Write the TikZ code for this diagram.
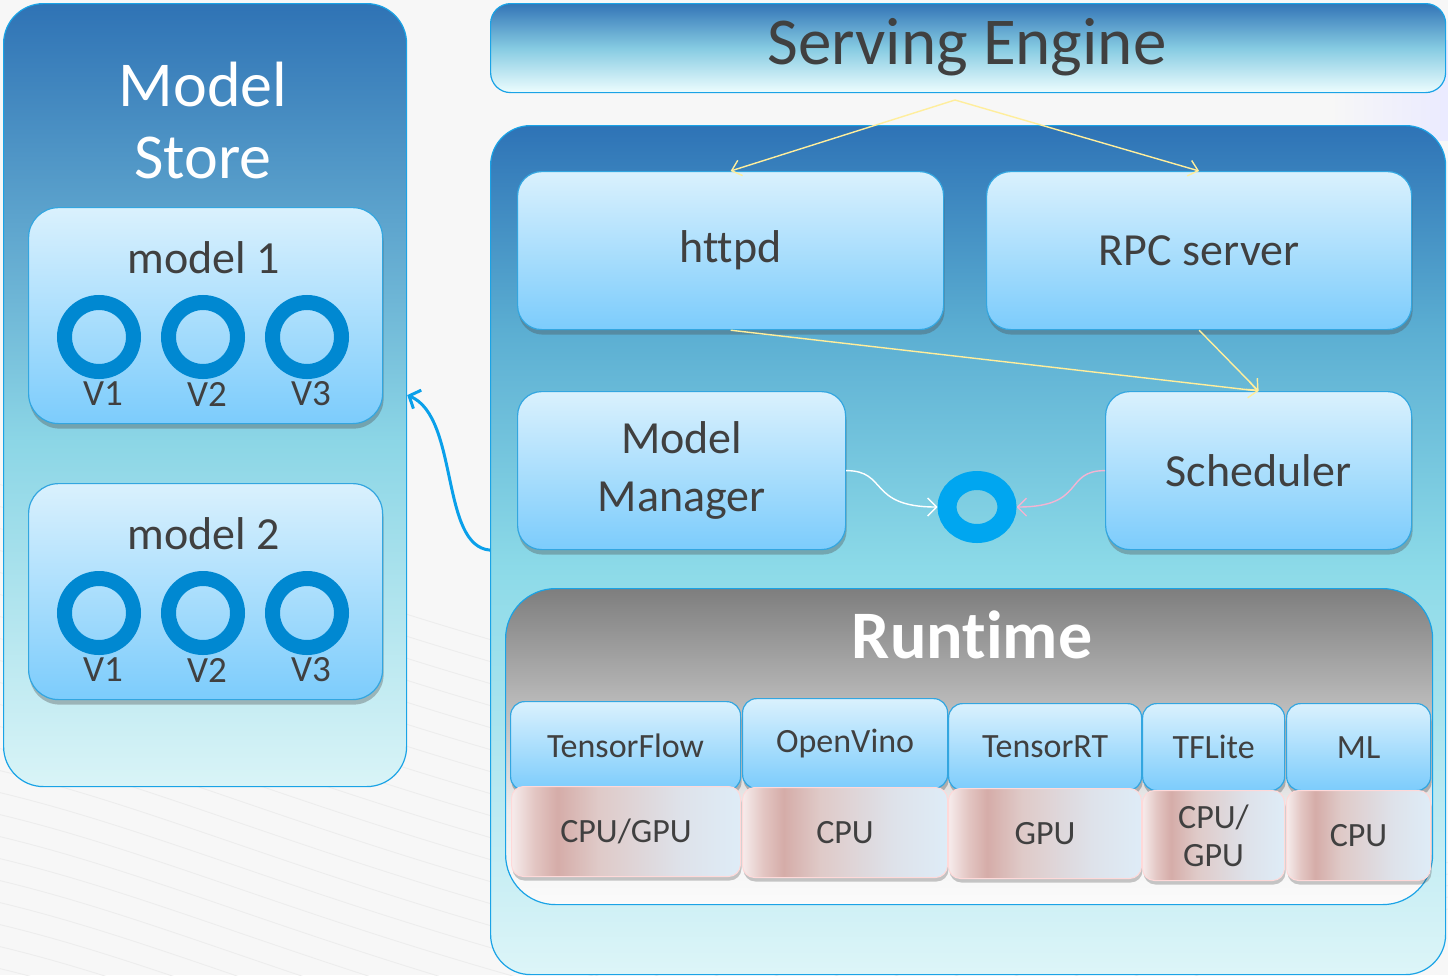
\documentclass[tikz,border=0pt]{standalone}
\usepackage{fontspec}
\setmainfont{Carlito}[Ligatures={NoCommon}]
\usetikzlibrary{arrows.meta,shadows,shapes.geometric}

\definecolor{txt}{HTML}{404040}
\definecolor{edge}{HTML}{1AA3E6}
\definecolor{blkedge}{HTML}{33A6E0}
\definecolor{blktop}{HTML}{DAF1FD}
\definecolor{blkbot}{HTML}{7CCCFC}
\definecolor{ringblue}{HTML}{0088D1}
\definecolor{hubblue}{HTML}{00A6F0}
\definecolor{flow}{HTML}{FFEE9C}
\definecolor{pinkflow}{HTML}{F4B4D2}
\definecolor{linkblue}{HTML}{0AA0EA}
\definecolor{paper}{HTML}{F7F7F7}
% panel gradients
\definecolor{sttop}{HTML}{2F73B5}\definecolor{stmid}{HTML}{8CD6E6}\definecolor{stbot}{HTML}{D9F4F7}
\definecolor{entop}{HTML}{2E73B6}\definecolor{enhi}{HTML}{5BAED2}\definecolor{enmid}{HTML}{8CDAE8}\definecolor{enbot}{HTML}{DDF5F8}
\definecolor{hdtop}{HTML}{3375B7}\definecolor{hdmid}{HTML}{86CBE2}\definecolor{hdbot}{HTML}{EDFDFE}
\definecolor{rttop}{HTML}{7E7E7E}\definecolor{rtmid}{HTML}{B9B9B9}\definecolor{rtlow}{HTML}{EDEDED}\definecolor{rtbot}{HTML}{FBFBFB}
\definecolor{chA}{HTML}{F6ECEC}\definecolor{chB}{HTML}{E3C6C3}\definecolor{chC}{HTML}{D5ACA8}
\definecolor{chD}{HTML}{DFCAC8}\definecolor{chE}{HTML}{DEE2EA}\definecolor{chF}{HTML}{DEECF7}

\pgfdeclareverticalshading{storeshade}{100bp}{color(0bp)=(stbot); color(25bp)=(stbot); color(47bp)=(stmid); color(75bp)=(sttop); color(100bp)=(sttop)}
\pgfdeclareverticalshading{engineshade}{100bp}{color(0bp)=(enbot); color(25bp)=(enbot); color(49bp)=(enmid); color(63bp)=(enhi); color(75bp)=(entop); color(100bp)=(entop)}
\pgfdeclareverticalshading{headshade}{100bp}{color(0bp)=(hdbot); color(25bp)=(hdbot); color(50bp)=(hdmid); color(75bp)=(hdtop); color(100bp)=(hdtop)}
\pgfdeclareverticalshading{runshade}{100bp}{color(0bp)=(rtbot); color(25bp)=(rtbot); color(40bp)=(rtlow); color(57bp)=(rtmid); color(75bp)=(rttop); color(100bp)=(rttop)}
\pgfdeclarehorizontalshading{chipshade}{100bp}{color(0bp)=(chA); color(25bp)=(chA); color(30bp)=(chB); color(35bp)=(chC); color(44bp)=(chD); color(62bp)=(chE); color(75bp)=(chF); color(100bp)=(chF)}

\newcommand\setfs[2]{\fontsize{#1}{#2}\selectfont}

\tikzset{
  panel/.style={draw=edge, line width=1.2pt, inner sep=0pt, anchor=north west},
  blk/.style={draw=blkedge, line width=1.2pt, rounded corners=#1, top color=blktop, bottom color=blkbot,
    drop shadow={shadow xshift=1pt, shadow yshift=-5pt, opacity=0.35, fill=black!70},
    inner sep=0pt, anchor=north west, text=txt, align=center},
  blk/.default=24pt,
  chip/.style={draw=white!85!red, line width=1pt, rounded corners=12pt, shading=chipshade,
    drop shadow={shadow xshift=1pt, shadow yshift=-4pt, opacity=0.3, fill=black!70},
    inner sep=0pt, anchor=north west, text=txt, align=center, font=\setfs{34}{38}},
  fw/.style={blk=14pt, font=\setfs{34}{38}},
  ver/.style={circle, draw=ringblue, line width=15pt, minimum size=69pt, inner sep=0pt},
  vlabel/.style={text=txt, font=\setfs{37}{40}, inner sep=0pt},
  flowarrow/.style={draw=flow, line width=1.4pt, -{Straight Barb[length=9pt,width=16pt]}},
  wave/.style={draw=black!7, line width=0.9pt}
}

\begin{document}
\begin{tikzpicture}[x=1pt, y=-1pt]
\useasboundingbox (0,0) rectangle (1448,975);
\fill[paper] (0,0) rectangle (1448,975);
\shade[right color=blue!8, left color=paper] (1330,40) rectangle (1448,140);

% faint background texture
\foreach \i in {0,...,24}{
  \draw[wave] (-20,{480+22*\i}) .. controls (160,{520+22*\i}) and (320,{600+22*\i}) .. (640,{680+22*\i});
}
\foreach \i in {0,...,10}{
  \draw[wave] ({560+60*\i},990) .. controls ({700+60*\i},930) and ({900+60*\i},900) .. ({1100+60*\i},860);
}

% ---------------- model store ----------------
\node[panel, rounded corners=40pt, shading=storeshade, minimum width=403pt, minimum height=783pt] (store) at (3,3) {};
\node[text=white, align=center, font=\setfs{64}{72}, inner sep=0pt] (storetitle) at (203,121) {Model\\Store};

\node[blk=30pt, minimum width=354pt, minimum height=216pt] (m1) at (28,207) {};
\node[text=txt, font=\setfs{46}{50}, inner sep=0pt] (m1t) at (204,258) {model 1};
\node[ver] (m1a) at (99,337) {};
\node[ver] (m1b) at (203,337) {};
\node[ver] (m1c) at (307,337) {};
\node[vlabel] (m1al) at (103,394) {V1};
\node[vlabel] (m1bl) at (207,394) {V2};
\node[vlabel] (m1cl) at (311,394) {V3};

\node[blk=30pt, minimum width=354pt, minimum height=216pt] (m2) at (28,483) {};
\node[text=txt, font=\setfs{46}{50}, inner sep=0pt] (m2t) at (204,534) {model 2};
\node[ver] (m2a) at (99,613) {};
\node[ver] (m2b) at (203,613) {};
\node[ver] (m2c) at (307,613) {};
\node[vlabel] (m2al) at (103,670) {V1};
\node[vlabel] (m2bl) at (207,670) {V2};
\node[vlabel] (m2cl) at (311,670) {V3};

% ---------------- serving engine ----------------
\node[panel, rounded corners=20pt, shading=headshade, minimum width=955pt, minimum height=89pt] (head) at (490,3) {};
\node[text=txt, font=\setfs{67}{70}, inner sep=0pt] (headt) at (967,47) {Serving Engine};

\node[panel, rounded corners=40pt, shading=engineshade, minimum width=955pt, minimum height=849pt] (engine) at (490,125) {};

\node[blk, minimum width=426pt, minimum height=158pt, font=\setfs{46}{52}] (httpd) at (517,171) {httpd};
\node[blk, minimum width=425pt, minimum height=158pt, font=\setfs{46}{52}] (rpc) at (986,171) {RPC server};
\node[blk, minimum width=328pt, minimum height=158pt, font=\setfs{46}{58}] (mm) at (517,391) {Model\\Manager};
\node[blk, minimum width=306pt, minimum height=158pt, font=\setfs{46}{52}] (sched) at (1105,391) {Scheduler};

\node[ellipse, draw=hubblue, line width=19pt, minimum width=60pt, minimum height=53pt, inner sep=0pt] (hub) at (977,507) {};

% ---------------- runtime ----------------
\node[panel, rounded corners=50pt, shading=runshade, minimum width=927pt, minimum height=316pt] (runtime) at (505,588) {};
\node[text=white, font=\bfseries\setfs{68}{72}, inner sep=0pt] (runt) at (972,635) {Runtime};

\node[fw, minimum width=230pt, minimum height=89pt] (tf) at (510,701) {TensorFlow};
\node[fw, minimum width=205pt, minimum height=90pt] (ov) at (742,698) {OpenVino};
\node[fw, minimum width=193pt, minimum height=87pt] (trt) at (948,703) {TensorRT};
\node[fw, minimum width=142pt, minimum height=87pt] (tfl) at (1142,703) {TFLite};
\node[fw, minimum width=144pt, minimum height=87pt] (ml) at (1286,703) {ML};

\node[chip, minimum width=229pt, minimum height=90pt] (tfhw) at (511,786) {CPU/GPU};
\node[chip, minimum width=205pt, minimum height=90pt] (ovhw) at (742,787) {CPU};
\node[chip, minimum width=193pt, minimum height=90pt] (trthw) at (948,788) {GPU};
\node[chip, minimum width=142pt, minimum height=90pt] (tflhw) at (1142,790) {CPU/\\GPU};
\node[chip, minimum width=144pt, minimum height=90pt] (mlhw) at (1286,790) {CPU};

% ---------------- connectors ----------------
\coordinate (fork) at (955,100);
\draw[flowarrow] (fork) -- (httpd.north);
\draw[flowarrow] (fork) -- (rpc.north);
\draw[flowarrow] (httpd.south) -- (sched.north);
\draw[flowarrow] (rpc.south) -- (sched.north);

\draw[white, line width=1.4pt, -{Straight Barb[length=9pt,width=18pt]}]
  (mm.east) .. controls +(42,0) and +(-70,0) .. (hub.west);
\draw[pinkflow, line width=1.4pt, -{Straight Barb[length=9pt,width=18pt]}]
  (sched.west) .. controls +(-42,0) and +(70,0) .. (hub.east);

\draw[linkblue, line width=3pt, -{Straight Barb[length=9pt,width=20pt]}]
  (engine.west) .. controls +(-50,-4) and +(52,22) .. (store.east);
\end{tikzpicture}
\end{document}
